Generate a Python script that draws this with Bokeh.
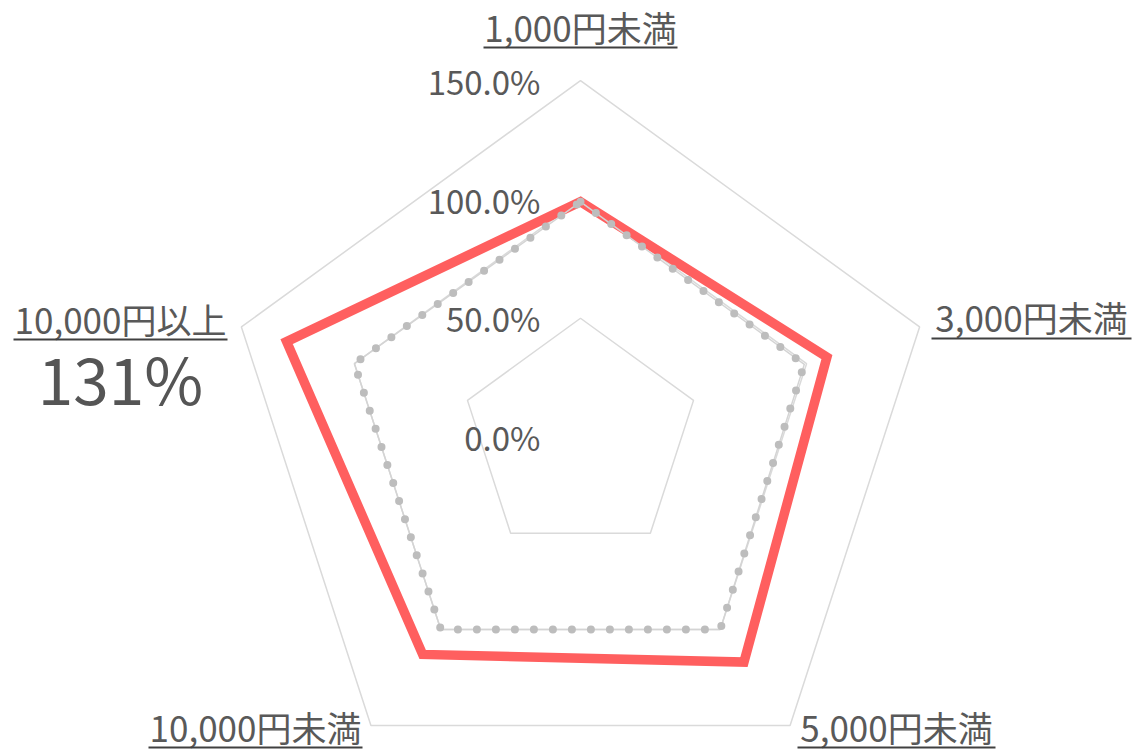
import math
from bokeh.plotting import figure
from bokeh.models import Range1d
from bokeh.core.properties import value
from bokeh.embed import file_html
from bokeh.resources import INLINE

# ---- data ----
categories = ["1,000円未満", "3,000円未満", "5,000円未満", "10,000円未満", "10,000円以上"]
series_current = [99, 109, 117, 113, 130]   # red solid series (%)
series_base = [99, 99, 100, 100, 100]       # grey dotted series (%)
ring_values = [50, 100, 150]
tick_values = [0, 50, 100, 150]
tick_labels = ["0.0%", "50.0%", "100.0%", "150.0%"]
highlight_text = "131%"

# ---- layout helpers (screen px -> data units, 1 unit = 1 %) ----
W, H = 1134, 755
CX, CY = 580, 436.6
S = 2.377


def X(sx):
    return (sx - CX) / S


def Y(sy):
    return (CY - sy) / S


def polar(vals):
    xs, ys = [], []
    n = len(vals)
    for k, v in enumerate(vals):
        t = math.pi / 2 - 2 * math.pi * k / n
        xs.append(v * math.cos(t))
        ys.append(v * math.sin(t))
    return xs, ys


FONT = value("Noto Sans CJK JP")
TXT = "#595959"
BASE_FIX = 0.48  # renderer puts the alphabetic baseline ~0.48em lower


def ty(base, fs):
    return Y(base - BASE_FIX * fs)


p = figure(width=W, height=H,
           x_range=Range1d(X(0), X(W)), y_range=Range1d(Y(H), Y(0)),
           output_backend="svg", toolbar_location=None, min_border=0,
           x_axis_type=None, y_axis_type=None)
p.grid.visible = False
p.outline_line_color = None
p.background_fill_color = "white"
p.border_fill_color = "white"

n = len(categories)

# grid rings
for r in ring_values:
    xs, ys = polar([r] * n)
    p.patch(xs, ys, fill_color=None, line_color="#dadada", line_width=1.5)

# red series
xs, ys = polar(series_current)
p.patch(xs, ys, fill_color=None, line_color="#ff5f5f", line_width=9.5, line_join="miter")

# grey dotted series
xs, ys = polar(series_base)
p.patch(xs, ys, fill_color=None, line_color="#d4d4d4", line_width=1.5)
p.patch(xs, ys, fill_color=None, line_color="#bdbdbd", line_width=8,
        line_dash="0 19", line_cap="round", line_join="round")

# axis tick labels (right-aligned left of the top spoke)
fs_tick = 33
p.text(x=[X(540)] * len(tick_values),
       y=[ty(CY - v * S + 16, fs_tick) for v in tick_values], text=tick_labels,
       text_font=FONT, text_font_size=f"{fs_tick}px", text_color=TXT,
       text_align="right", text_baseline="alphabetic")

# category labels (screen centre x, baseline y, underline y, half width)
fs_cat = 35
lab_cx = [580, 1031, 896, 255, 120]
lab_base = [43, 333, 743, 743, 335]
ul_y = [47, 338, 747, 747, 339]
half_w = [97, 100, 99, 107, 107]
p.text(x=[X(v) for v in lab_cx], y=[ty(v, fs_cat) for v in lab_base], text=categories,
       text_font=FONT, text_font_size=f"{fs_cat}px", text_color=TXT,
       text_align="center", text_baseline="alphabetic")
p.segment(x0=[X(c - w) for c, w in zip(lab_cx, half_w)], y0=[Y(v) for v in ul_y],
          x1=[X(c + w) for c, w in zip(lab_cx, half_w)], y1=[Y(v) for v in ul_y],
          line_color="#404040", line_width=2)

# highlighted value under the 10,000円以上 label
fs_big = 64
p.text(x=[X(120)], y=[ty(407, fs_big)], text=[highlight_text],
       text_font=FONT, text_font_size=f"{fs_big}px", text_color="#555555",
       text_align="center", text_baseline="alphabetic")

open("out.html", "w").write(file_html(p, INLINE))
